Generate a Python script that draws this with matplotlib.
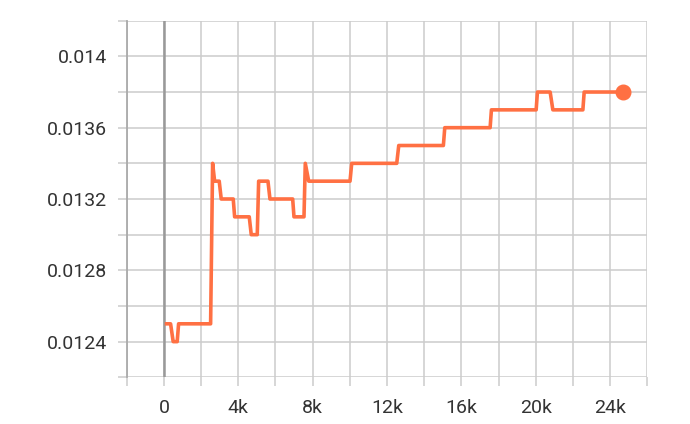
import matplotlib.pyplot as plt
from matplotlib.ticker import FixedLocator

# vertices of the curve (step, value)
steps = [145, 360, 500, 716, 791, 2513, 2621, 2729, 2976, 3084, 3730, 3805,
         4591, 4699, 5022, 5097, 5597, 5705, 6927, 6997, 7535, 7605, 7788,
         10011, 10102, 12524, 12632, 15032, 15107, 17546, 17616, 20022,
         20091, 20775, 20920, 22535, 22605, 24688]
values = [0.0125, 0.0125, 0.0124, 0.0124, 0.0125, 0.0125, 0.0134, 0.0133,
          0.0133, 0.0132, 0.0132, 0.0131, 0.0131, 0.0130, 0.0130, 0.0133,
          0.0133, 0.0132, 0.0132, 0.0131, 0.0131, 0.0134, 0.0133, 0.0133,
          0.0134, 0.0134, 0.0135, 0.0135, 0.0136, 0.0136, 0.0137, 0.0137,
          0.0138, 0.0138, 0.0137, 0.0137, 0.0138, 0.0138]

x_ticks = [0, 4000, 8000, 12000, 16000, 20000, 24000]
x_tick_labels = ['0', '4k', '8k', '12k', '16k', '20k', '24k']
x_grid = list(range(-2000, 26001, 2000))
y_ticks = [0.0124, 0.0128, 0.0132, 0.0136, 0.014]
y_tick_labels = ['0.0124', '0.0128', '0.0132', '0.0136', '0.014']
y_grid = [0.0122 + 0.0002 * i for i in range(11)]

plt.rcParams['font.family'] = ['Roboto', 'DejaVu Sans']

fig = plt.figure(figsize=(6.9, 4.24), dpi=100)
ax = fig.add_axes([126.7 / 690, 1 - 377.3 / 424, (647.3 - 126.7) / 690, (377.3 - 20.7) / 424])

line_color = '#ff7043'
grid_color = '#cccccc'

ax.set_xlim(-2000, 26000)
ax.set_ylim(0.0122, 0.0142)

ax.xaxis.set_major_locator(FixedLocator(x_ticks))
ax.xaxis.set_minor_locator(FixedLocator(x_grid))
ax.set_xticklabels(x_tick_labels)
ax.yaxis.set_major_locator(FixedLocator(y_ticks))
ax.yaxis.set_minor_locator(FixedLocator(y_grid))
ax.set_yticklabels(y_tick_labels)

# grid on every 2k / 0.0002 (major and minor positions alike)
ax.grid(True, which='both', color=grid_color, linewidth=1.1)
ax.set_axisbelow(True)

ax.tick_params(which='both', length=6.5, width=1.1, color=grid_color,
               labelsize=14, labelcolor='#333333')
ax.tick_params(axis='x', which='major', pad=9)
ax.tick_params(axis='y', which='major', pad=7.5)

for side in ['top', 'right', 'bottom']:
    ax.spines[side].set_visible(False)
ax.spines['left'].set_color('#aaaaaa')
ax.spines['left'].set_linewidth(1.3)

# darker line at step 0
ax.axvline(0, color='#999999', linewidth=1.8, zorder=1.5)

ax.plot(steps, values, color=line_color, linewidth=2.6, zorder=3)
ax.plot(steps[-1], values[-1], 'o', color=line_color, markersize=10.5, zorder=4)

fig.savefig('out.png', dpi=100)
